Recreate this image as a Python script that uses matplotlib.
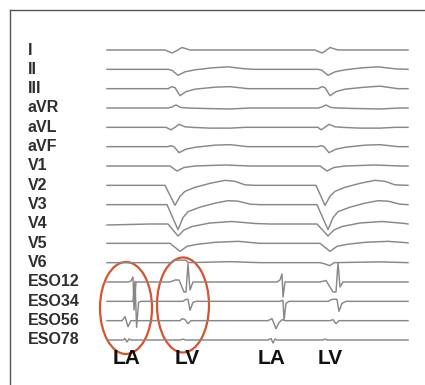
import matplotlib
matplotlib.use("Agg")
import matplotlib.pyplot as plt
from matplotlib.patches import Ellipse
from matplotlib.lines import Line2D

# ---- data: (time ms, amplitude) keypoints of each trace ----
lead_names = ["I", "II", "III", "aVR", "aVL", "aVF", "V1", "V2", "V3", "V4",
              "V5", "V6", "ESO12", "ESO34", "ESO56", "ESO78"]

lead_I = [(0, 0), (290, 0), (325, -3), (350, -0.5), (375, 2.5), (415, 0), (1040, 0),
          (1075, -3), (1095, -0.5), (1115, 2.5), (1155, 0), (1505, 0)]
lead_II = [(0, 0), (305, 0), (325, -1), (355, -6), (390, -2.5), (440, -0.5), (525, 1.5),
           (605, 2.5), (690, 0.5), (740, 0), (1055, 0), (1075, -1), (1105, -6), (1140, -2.5),
           (1190, -0.5), (1275, 1.5), (1355, 2.5), (1440, 0.5), (1505, 0)]
lead_III = [(0, 0), (305, 0), (325, 2), (340, 1), (365, -7), (395, -3), (440, -0.5), (540, 1.5),
            (615, 2), (705, 0), (1055, 0), (1075, 2), (1090, 1), (1115, -7), (1145, -3),
            (1190, -0.5), (1290, 1.5), (1365, 2.5), (1455, 0), (1505, 0)]
lead_aVR = [(0, 0), (305, 0), (325, 1), (345, 3), (370, 0.5), (405, 0), (490, -0.5), (615, -1),
            (715, 0), (1055, 0), (1075, 1), (1095, 3), (1120, 0.5), (1155, 0), (1240, -0.5),
            (1365, -1), (1465, 0), (1505, 0)]
lead_aVL = [(0, 0), (295, 0), (320, -2.5), (340, 0), (360, 3), (390, 0.5), (425, 0), (515, -0.8),
            (615, -0.8), (690, 0), (1055, 0), (1070, -2.5), (1090, 0), (1110, 3), (1140, 0.5),
            (1175, 0), (1265, -0.8), (1365, -0.8), (1440, 0), (1505, 0)]
lead_aVF = [(0, 0), (305, 0), (320, 1), (335, 0), (360, -6), (395, -2.5), (445, -0.5), (540, 1.5),
            (615, 2), (705, 0), (1055, 0), (1070, 1), (1085, 0), (1110, -6), (1145, -2.5),
            (1195, -0.5), (1290, 1.5), (1365, 2), (1455, 0), (1505, 0)]
lead_V1 = [(0, 0), (315, 0), (350, -5), (385, -1.5), (440, 0), (590, 1), (715, 0), (1065, 0),
           (1100, -5), (1135, -1.5), (1190, 0), (1340, 1), (1465, 0), (1505, 0)]
lead_V2 = [(0, 0), (290, 0), (340, -20), (365, -11), (390, -6), (440, -2), (515, 2), (590, 5),
           (640, 4), (690, 0.5), (740, 0), (1045, 0), (1090, -20), (1115, -11), (1140, -6),
           (1190, -2), (1265, 2), (1340, 5), (1390, 4), (1440, 0.5), (1505, 0)]
lead_V3 = [(0, 0), (300, 0), (355, -25), (380, -13), (405, -7), (465, -2.5), (540, 1.5), (605, 4),
           (655, 3.5), (715, 0.5), (765, 0), (1050, 0), (1105, -25), (1130, -13), (1155, -7),
           (1215, -2.5), (1290, 1.5), (1355, 4), (1405, 3.5), (1465, 0.5), (1505, 0)]
lead_V4 = [(0, -1), (215, 0), (305, 0), (355, -12), (385, -6), (425, -2.5), (515, 1), (625, 2.5),
           (740, 0.5), (815, 0), (1050, 0), (1105, -12), (1135, -6), (1175, -2.5), (1265, 1),
           (1375, 2.5), (1490, 0.5), (1505, 0)]
lead_V5 = [(0, 0), (315, 0), (365, -8), (400, -3), (450, -1), (540, 1), (655, 2), (765, 0),
           (1065, 0), (1115, -8), (1150, -3), (1200, -1), (1290, 1), (1405, 2), (1505, 0.5)]
lead_V6 = [(0, 0), (325, 0), (340, 2.5), (395, 2.5), (405, 0), (615, 1), (765, 0), (1065, 0),
           (1085, -1), (1115, -3), (1135, 0), (1365, 0.8), (1505, 0)]
lead_ESO12 = [(0, 0), (105, 0), (120, 1), (130, 5), (135, -28), (145, 0), (315, 0), (340, 2),
              (360, 2), (385, -10), (395, -10), (405, 18), (415, -8), (430, 0), (850, 0),
              (865, 2), (875, 8), (880, -15), (890, 0), (1065, 0), (1095, 1.5), (1130, -10),
              (1145, -10), (1155, 19), (1165, -5), (1180, 0), (1505, 0)]
lead_ESO34 = [(0, 0), (130, 0), (140, 20), (148, -26), (158, -1), (170, 0), (380, 0), (395, 2),
              (405, 2), (415, -9), (430, -1), (445, 0), (865, 0), (880, 1), (885, -19),
              (895, -2), (910, 0), (1105, 0), (1125, 2), (1150, 2), (1160, -10), (1175, -2),
              (1195, 0), (1505, 0)]
lead_ESO56 = [(0, 0), (75, 0), (90, 4), (105, -6), (120, 0), (365, 0), (375, 2), (390, 1),
              (405, -3), (420, 0), (805, 0), (825, 2), (845, -8), (860, -2), (875, 1), (890, 0),
              (1115, 0), (1130, 1), (1145, -3), (1160, 0), (1505, 0)]
lead_ESO78 = [(0, 0), (80, 0), (90, 1.5), (100, -2), (110, 1), (120, 0), (365, 0), (380, 0.8),
              (395, 0), (805, 0), (820, 1.5), (830, -3), (840, 1), (850, 0), (1080, 0),
              (1090, 1), (1100, 0), (1505, 0)]

leads = [lead_I, lead_II, lead_III, lead_aVR, lead_aVL, lead_aVF, lead_V1, lead_V2,
         lead_V3, lead_V4, lead_V5, lead_V6, lead_ESO12, lead_ESO34, lead_ESO56, lead_ESO78]

event_labels = ["LA", "LV", "LA", "LV"]
event_times = [97, 400, 825, 1115]       # ms

# ---- layout ----
W, H = 425, 385
X0, MS_PER_PX = 107, 5.0      # trace start pixel, ms per pixel
Y0, DY = 50, 19.333           # first baseline pixel, baseline spacing

def px_x(px):
    return (px - X0) * MS_PER_PX

def px_y(py):
    return (py - Y0) / DY

fig = plt.figure(figsize=(W / 100, H / 100), dpi=100)
fig.patch.set_facecolor("white")
ax = fig.add_axes([0, 0, 1, 1])
ax.set_xlim(px_x(0), px_x(W))
ax.set_ylim(px_y(H), px_y(0))
ax.axis("off")

# frame (cut off at right/bottom)
fig.add_artist(Line2D([10 / W, 10 / W], [0, 1 - 10 / H], transform=fig.transFigure,
                      color="#555555", lw=1.0))
fig.add_artist(Line2D([10 / W, 1], [1 - 10 / H, 1 - 10 / H], transform=fig.transFigure,
                      color="#555555", lw=1.0))

for i, (name, pts) in enumerate(zip(lead_names, leads)):
    ts = [p[0] for p in pts]
    ys = [i - p[1] / DY for p in pts]
    ax.plot(ts, ys, color="#888888", lw=1.05, solid_joinstyle="round")
    ax.text(px_x(28), i, name, ha="left", va="center", fontsize=11.5,
            fontweight="bold", color="#2e2e2e", family="Liberation Sans")

for lab, t in zip(event_labels, event_times):
    ax.text(t, px_y(358), lab, ha="center", va="center", fontsize=15,
            fontweight="bold", color="#111111", family="Liberation Sans")

for cx, cy, w, h in [(126, 308, 52, 92), (183, 305, 52, 95)]:
    ax.add_patch(Ellipse((px_x(cx), px_y(cy)), w * MS_PER_PX, h / DY, fill=False,
                         edgecolor="#d5532d", lw=1.6))

fig.savefig("out.png", dpi=100, facecolor="white")
